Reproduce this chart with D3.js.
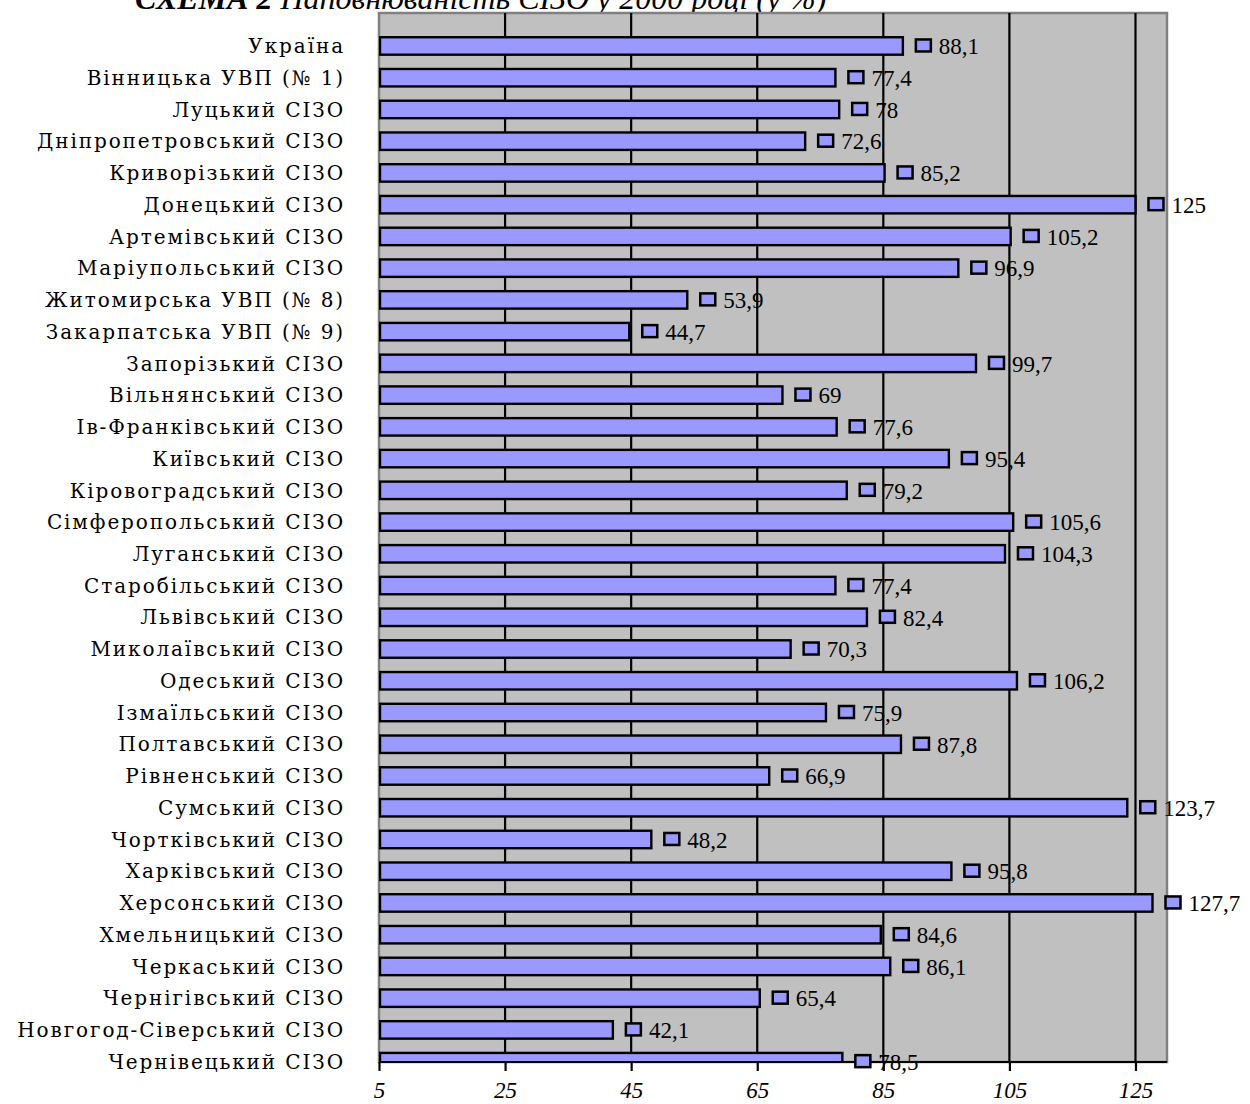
<!DOCTYPE html>
<html><head><meta charset="utf-8">
<script src="https://cdn.jsdelivr.net/npm/d3@7"></script>
<style>body{margin:0;background:#fff}</style>
</head><body>
<svg id="c" width="1250" height="1104"></svg>
<script>
const categories = ["Україна","Вінницька УВП (№ 1)","Луцький СІЗО","Дніпропетровський СІЗО","Криворізький СІЗО","Донецький СІЗО","Артемівський СІЗО","Маріупольський СІЗО","Житомирська УВП (№ 8)","Закарпатська УВП (№ 9)","Запорізький СІЗО","Вільнянський СІЗО","Ів-Франківський СІЗО","Київський СІЗО","Кіровоградський СІЗО","Сімферопольський СІЗО","Луганський СІЗО","Старобільський СІЗО","Львівський СІЗО","Миколаївський СІЗО","Одеський СІЗО","Ізмаїльський СІЗО","Полтавський СІЗО","Рівненський СІЗО","Сумський СІЗО","Чортківський СІЗО","Харківський СІЗО","Херсонський СІЗО","Хмельницький СІЗО","Черкаський СІЗО","Чернігівський СІЗО","Новгогод-Сіверський СІЗО","Чернівецький СІЗО"];
const values = [88.1,77.4,78,72.6,85.2,125,105.2,96.9,53.9,44.7,99.7,69,77.6,95.4,79.2,105.6,104.3,77.4,82.4,70.3,106.2,75.9,87.8,66.9,123.7,48.2,95.8,127.7,84.6,86.1,65.4,42.1,78.5];
const tickValues = [5,25,45,65,85,105,125];
const titleBold = "СХЕМА 2 ";
const titleRest = "Наповнюваність СІЗО у 2000 році (у %)";

const svg = d3.select("#c");
const plot = {left:379, right:1167, top:13, bottom:1062};
const x = d3.scaleLinear().domain([5,130]).range([plot.left, plot.right]);
const y = d3.scaleBand().domain(categories).range([30.1, 30.1 + 33*31.74]).paddingInner(0.45).paddingOuter(0.225);

// title (clipped at top, as in the reference)
const t = svg.append("text").attr("x",135).attr("y",9)
  .attr("font-family","Liberation Serif").attr("font-style","italic").attr("font-size",32);
t.append("tspan").attr("font-weight","bold").text(titleBold);
t.append("tspan").text(titleRest);

svg.append("defs").append("clipPath").attr("id","pc").append("rect")
  .attr("x",plot.left).attr("y",plot.top).attr("width",plot.right-plot.left).attr("height",plot.bottom-plot.top);

// plot background
svg.append("rect").attr("x",plot.left).attr("y",plot.top).attr("width",plot.right-plot.left).attr("height",plot.bottom-plot.top)
  .attr("fill","#c0c0c0").attr("stroke","#808080").attr("stroke-width",2.5);

// gridlines
svg.append("g").selectAll("line").data(tickValues.slice(1)).join("line")
  .attr("x1",d=>x(d)).attr("x2",d=>x(d)).attr("y1",plot.top).attr("y2",plot.bottom)
  .attr("stroke","#000").attr("stroke-width",2.2);

// bars
svg.append("g").attr("clip-path","url(#pc)").selectAll("rect").data(values).join("rect")
  .attr("x",x(5)+1).attr("y",(d,i)=>y(categories[i]))
  .attr("width",d=>x(d)-x(5)-1).attr("height",y.bandwidth())
  .attr("fill","#9999ff").attr("stroke","#000").attr("stroke-width",2.4);

// axis
const axis = svg.append("g").attr("transform",`translate(0,${plot.bottom})`)
  .call(d3.axisBottom(x).tickValues(tickValues).tickSize(9).tickPadding(11).tickFormat(d3.format("d")));
axis.select(".domain").attr("stroke","#000").attr("stroke-width",2.2).attr("d",`M${plot.left},0H${plot.right}`);
axis.selectAll(".tick line").attr("stroke","#000").attr("stroke-width",2.2);
axis.selectAll(".tick text").attr("font-family","Liberation Serif").attr("font-style","italic").attr("font-size",23).attr("fill","#000");

// category labels
svg.append("g").selectAll("text").data(categories).join("text")
  .attr("x",345).attr("y",d=>y(d)+y.bandwidth()/2).attr("dy","0.36em")
  .attr("text-anchor","end").attr("font-family","DejaVu Serif").attr("font-size",20)
  .attr("letter-spacing",1.9).attr("fill","#000").text(d=>d);

// value labels with legend key
const fmt = v => String(v).replace(".",",");
const lg = svg.append("g");
lg.selectAll("rect").data(values).join("rect")
  .attr("x",d=>x(d)+13).attr("y",(d,i)=>y(categories[i])+y.bandwidth()/2-6.5)
  .attr("width",15).attr("height",12).attr("fill","#9999ff").attr("stroke","#000").attr("stroke-width",2.5);
lg.selectAll("text").data(values).join("text")
  .attr("x",d=>x(d)+36).attr("y",(d,i)=>y(categories[i])+y.bandwidth()/2).attr("dy","0.36em")
  .attr("font-family","Liberation Serif").attr("font-size",23).attr("fill","#000").text(fmt);
</script>
</body></html>
